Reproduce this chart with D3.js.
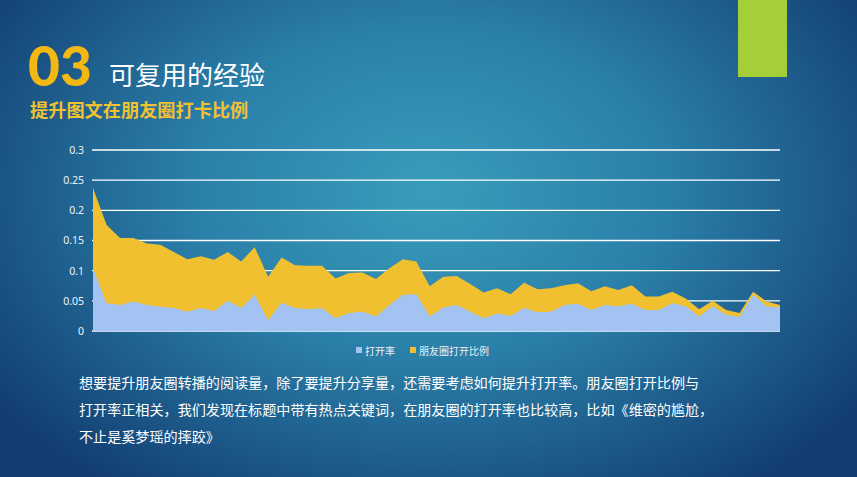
<!DOCTYPE html>
<html><head><meta charset="utf-8">
<script src="https://cdn.jsdelivr.net/npm/d3@7/dist/d3.min.js"></script>
<style>
html,body{margin:0;padding:0;width:857px;height:477px;overflow:hidden;background:#123f73;}
svg{display:block;}
</style></head>
<body>
<svg id="c" width="857" height="477"></svg>
<script>
const seriesNames = ["打开率", "朋友圈打开比例"];
const openRate = [0.105,0.046,0.043,0.049,0.043,0.040,0.038,0.032,0.038,0.033,0.050,0.038,0.060,0.018,0.047,0.038,0.036,0.038,0.021,0.030,0.032,0.024,0.043,0.060,0.061,0.024,0.039,0.043,0.032,0.021,0.029,0.025,0.038,0.031,0.032,0.043,0.045,0.035,0.043,0.041,0.045,0.035,0.035,0.046,0.041,0.024,0.041,0.027,0.023,0.060,0.041,0.039];
const momentsRatio = [0.237,0.176,0.154,0.154,0.145,0.143,0.131,0.119,0.124,0.118,0.131,0.115,0.139,0.090,0.122,0.109,0.108,0.108,0.087,0.096,0.097,0.086,0.104,0.119,0.115,0.074,0.090,0.091,0.078,0.064,0.071,0.061,0.080,0.069,0.071,0.076,0.079,0.066,0.074,0.068,0.076,0.057,0.057,0.065,0.054,0.036,0.050,0.035,0.030,0.065,0.049,0.043];
const yTicks = [0, 0.05, 0.1, 0.15, 0.2, 0.25, 0.3];
const yTickLabels = ["0", "0.05", "0.1", "0.15", "0.2", "0.25", "0.3"];
const titleNum = "03";
const titleText = "可复用的经验";
const subtitle = "提升图文在朋友圈打卡比例";
const paragraph = [
  "想要提升朋友圈转播的阅读量，除了要提升分享量，还需要考虑如何提升打开率。朋友圈打开比例与",
  "打开率正相关，我们发现在标题中带有热点关键词，在朋友圈的打开率也比较高，比如《维密的尴尬，",
  "不止是奚梦瑶的摔跤》"
];

const svg = d3.select("#c");
const defs = svg.append("defs");
const rg = defs.append("radialGradient").attr("id","bg")
  .attr("cx","0.5").attr("cy","0.4").attr("r","0.62")
  .attr("gradientTransform","translate(0.5,0.4) scale(1,1.25) translate(-0.5,-0.4)");
rg.append("stop").attr("offset","0").attr("stop-color","#3a9dbb");
rg.append("stop").attr("offset","0.45").attr("stop-color","#2a7fa8");
rg.append("stop").attr("offset","1").attr("stop-color","#123d72");
svg.append("rect").attr("width",857).attr("height",477).attr("fill","url(#bg)");

// green corner block
svg.append("rect").attr("x",738).attr("y",0).attr("width",49).attr("height",77).attr("fill","#a5cf3a");

// titles
svg.append("text").attr("x",28).attr("y",86).text(titleNum)
  .attr("font-family","Lato, 'Open Sans', Arial, sans-serif").attr("font-weight",900)
  .attr("font-size",55).attr("fill","#f4b812");
svg.append("text").attr("x",109).attr("y",85).text(titleText)
  .attr("font-family","'Noto Sans CJK SC', sans-serif").attr("font-size",26).attr("fill","#ffffff");
svg.append("text").attr("x",30).attr("y",117).text(subtitle)
  .attr("font-family","'Noto Sans CJK SC', serif").attr("font-weight",700)
  .attr("font-size",18.2).attr("fill","#f0c232");

// chart
const x = d3.scaleLinear().domain([0, openRate.length-1]).range([93, 780]);
const y = d3.scaleLinear().domain([0, 0.3]).range([331, 150]);

const g = svg.append("g");
g.selectAll("line.grid").data(yTicks).join("line").attr("class","grid")
  .attr("x1",92).attr("x2",780).attr("y1",d=>y(d)).attr("y2",d=>y(d))
  .attr("stroke","#ffffff").attr("stroke-width",1.4);

const area = arr => d3.area().x((d,i)=>x(i)).y0(y(0)).y1(d=>y(d))(arr);
g.append("path").attr("d",area(momentsRatio)).attr("fill","#f0c030");
g.append("path").attr("d",area(openRate)).attr("fill","#a3c4f3");

const yAxis = d3.axisLeft(y).tickValues(yTicks).tickFormat((d,i)=>yTickLabels[i]).tickSize(0).tickPadding(0);
const ax = svg.append("g").attr("transform","translate(84,0)").call(yAxis);
ax.select(".domain").remove();
ax.selectAll("text").attr("font-family","'Noto Sans', Arial, sans-serif").attr("font-size",10.5).attr("fill","#eef3fa");

// legend
const legend = svg.append("g").attr("transform","translate(356,351)");
const lg = [{name:seriesNames[0],c:"#a3c4f3",x:0},{name:seriesNames[1],c:"#f0c030",x:54}];
lg.forEach(l=>{
  legend.append("rect").attr("x",l.x).attr("y",-4).attr("width",6).attr("height",6).attr("fill",l.c);
  legend.append("text").attr("x",l.x+9).attr("y",3.5).text(l.name)
    .attr("font-family","'Noto Sans CJK SC', sans-serif").attr("font-size",10).attr("fill","#e8f0f8");
});

// paragraph
svg.selectAll("text.para").data(paragraph).join("text").attr("class","para")
  .attr("x",79).attr("y",(d,i)=>388+i*27).text(d=>d)
  .attr("font-family","'Noto Sans CJK SC', sans-serif").attr("font-size",14.1).attr("fill","#ffffff");
</script>
</body></html>
